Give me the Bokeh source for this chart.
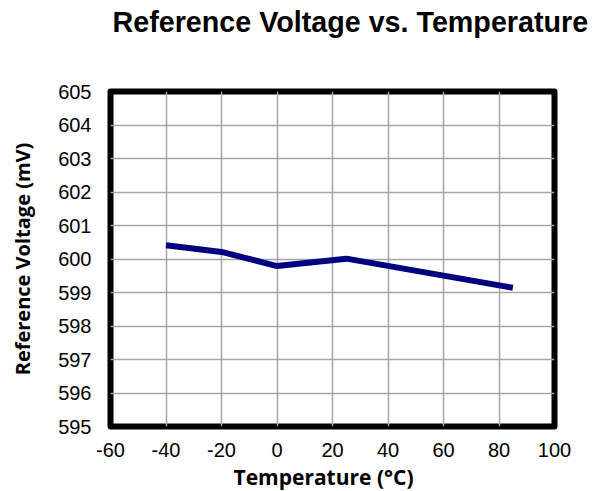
from bokeh.plotting import figure
from bokeh.models import Range1d, FixedTicker, Title
from bokeh.embed import file_html
from bokeh.resources import INLINE

# Data
temperature_c = [-40, -20, 0, 25, 85]
reference_mv = [600.41, 600.21, 599.79, 600.01, 599.14]
x_ticks = [-60, -40, -20, 0, 20, 40, 60, 80, 100]
y_ticks = [595, 596, 597, 598, 599, 600, 601, 602, 603, 604, 605]
chart_title = "Reference Voltage vs. Temperature"
x_label = "Temperature (°C)"
y_label = "Reference Voltage (mV)"

p = figure(width=601, height=491, output_backend="svg", toolbar_location=None,
           x_range=Range1d(-60, 100), y_range=Range1d(595, 605),
           min_border_left=110, min_border_right=47,
           min_border_top=91, min_border_bottom=61)

# spacer between the title and the plot frame
p.add_layout(Title(text=" ", text_font_size="1px", standoff=51), "above")

p.title.text = chart_title
p.title.align = "left"
p.title.offset = 2
p.title.standoff = 0
p.title.text_font = "Liberation Sans"
p.title.text_font_style = "bold"
p.title.text_font_size = "28.7px"
p.title.text_color = "black"

p.outline_line_color = "black"
p.outline_line_width = 6
p.outline_line_join = "round"
p.background_fill_color = "white"
p.border_fill_color = "white"

for ax in (p.xaxis, p.yaxis):
    ax.axis_line_color = None
    ax.major_tick_line_color = None
    ax.minor_tick_line_color = None
    ax.major_label_text_font = "Liberation Sans"
    ax.major_label_text_font_size = "20px"
    ax.major_label_text_color = "black"
    ax.axis_label_text_font = "Open Sans"
    ax.axis_label_text_font_style = "bold"
    ax.axis_label_text_font_size = "20px"
    ax.axis_label_text_color = "black"
    ax.axis_label_text_line_height = 1.0
    ax.major_label_text_line_height = 1.0

p.xaxis.ticker = FixedTicker(ticks=x_ticks)
p.yaxis.ticker = FixedTicker(ticks=y_ticks)
p.xaxis.major_label_overrides = {t: str(t) for t in x_ticks}
p.yaxis.major_label_overrides = {t: str(t) for t in y_ticks}
p.yaxis.axis_label = y_label
p.xaxis.major_label_standoff = 10
p.yaxis.major_label_standoff = 13
p.yaxis.axis_label_standoff = 19

# x-axis title, placed below the tick labels
p.add_layout(Title(text=x_label, align="left", offset=123, standoff=2,
                   text_font="Open Sans", text_font_style="bold",
                   text_font_size="21px", text_color="black"), "below")

p.xgrid.ticker = FixedTicker(ticks=x_ticks)
p.ygrid.ticker = FixedTicker(ticks=y_ticks)
p.grid.grid_line_color = "#a6a6a6"
p.grid.grid_line_width = 1.5

p.line(temperature_c, reference_mv, line_color="#000080", line_width=6)

open("out.html", "w").write(file_html(p, INLINE))
